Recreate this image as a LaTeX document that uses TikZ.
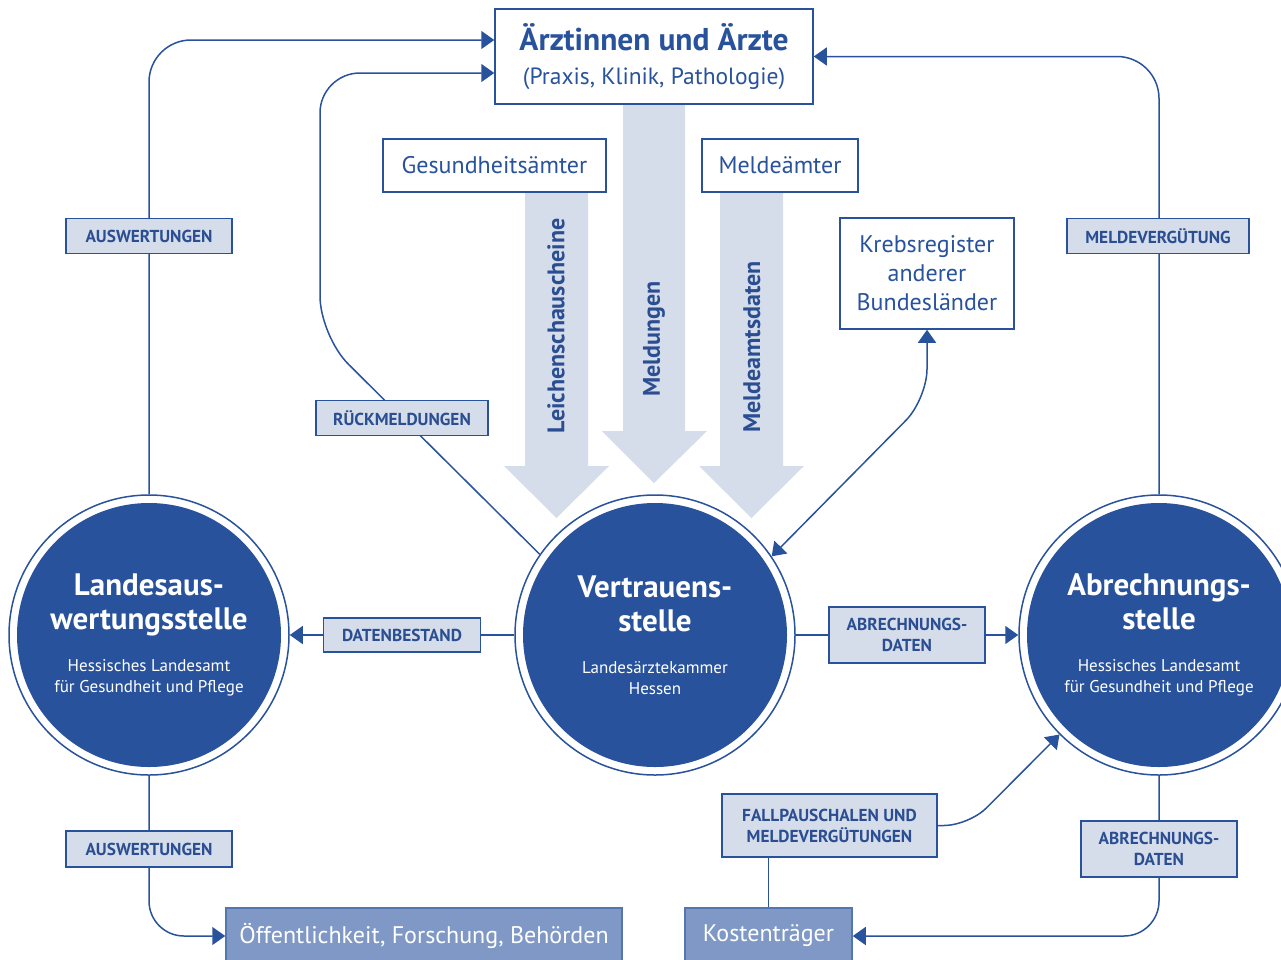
\documentclass[tikz,border=0pt]{standalone}
\usepackage{fontspec}
\setmainfont{PT Sans}
\usetikzlibrary{arrows.meta,calc}
\definecolor{navy}{RGB}{40,82,156}
\definecolor{lightfill}{RGB}{213,220,234}
\definecolor{midfill}{RGB}{127,152,198}
\definecolor{txtblue}{RGB}{42,78,145}
\newcommand{\ctitle}{\fontsize{31}{34}\selectfont\bfseries}
\newcommand{\csub}{\fontsize{17}{21}\selectfont\mdseries}
\newcommand{\atitle}{\fontsize{31.5}{34}\selectfont\bfseries}
\newcommand{\asub}{\fontsize{23.5}{30}\selectfont\mdseries}
\begin{document}
\begin{tikzpicture}[x=1pt,y=-1pt,
  conn/.style={draw=navy,line width=1.5pt},
  tip/.style={-{Triangle[length=13pt,width=18pt]}},
  whitebox/.style={draw=navy,line width=1.5pt,fill=white,text=navy,inner sep=0pt,align=center,font=\fontsize{24}{29}\selectfont},
  labelbox/.style={draw=navy,line width=1.5pt,fill=lightfill,text=txtblue,inner sep=0pt,align=center,font=\fontsize{17.3}{21}\selectfont\bfseries},
  darkbox/.style={draw=navy!80,line width=1.5pt,fill=midfill,text=white,inner sep=0pt,align=center,font=\fontsize{24}{26}\selectfont},
  bigarrow/.style={fill=lightfill},
  arrowtext/.style={text=txtblue,rotate=90,font=\fontsize{24}{26}\selectfont\bfseries},
  circ/.style={circle,minimum size=280pt,inner sep=0pt,draw=navy,line width=1.5pt,fill=white,text=white,align=center,
    font=\fontsize{31}{34}\selectfont,
    path picture={\fill[navy] (path picture bounding box.center) circle (132pt);}},
]
\useasboundingbox (0,0) rectangle (1281,959);
\clip (0,0) rectangle (1281,959);

% big flow arrows
\fill[bigarrow] (623,100) -- (685,100) -- (685,431) -- (707,431) -- (654,483) -- (602,431) -- (623,431) -- cycle;
\fill[bigarrow] (525,190) -- (588,190) -- (588,466) -- (609,466) -- (556.5,518) -- (504,466) -- (525,466) -- cycle;
\fill[bigarrow] (720,190) -- (783,190) -- (783,466) -- (804,466) -- (751.5,518) -- (699,466) -- (720,466) -- cycle;
\node[arrowtext] (tLeich) at (556,326) {Leichenschauscheine};
\node[arrowtext] (tMeld) at (654,339) {Meldungen};
\node[arrowtext] (tMdat) at (752,347) {Meldeamtsdaten};

% boxes
\node[whitebox,minimum width=318pt,minimum height=95pt] (aerzte) at (654,56.5)
  {\atitle Ärztinnen und Ärzte\\[5pt]\asub (Praxis, Klinik, Pathologie)};
\node[whitebox,minimum width=223pt,minimum height=53pt] (gesund) at (494.5,165.5) {Gesundheitsämter};
\node[whitebox,minimum width=156pt,minimum height=53pt] (melde) at (780,165.5) {Meldeämter};
\node[whitebox,minimum width=174pt,minimum height=111pt] (kreb) at (927,273.5) {Krebsregister\\anderer\\Bundesländer};
\node[darkbox,minimum width=396pt,minimum height=56pt] (oeff) at (424,936) {Öffentlichkeit, Forschung, Behörden};
\node[darkbox,minimum width=167pt,minimum height=56pt] (kost) at (768.5,936) {Kostenträger};

% circles
\node[circ] (cL) at (149,635) {\ctitle Landesaus-\\\ctitle wertungsstelle\\[8pt]\csub Hessisches Landesamt\\[-13pt]\csub für Gesundheit und Pflege};
\node[circ] (cV) at (655,635) {\ctitle Vertrauens-\\\ctitle stelle\\[8pt]\csub Landesärztekammer\\[-13pt]\csub Hessen};
\node[circ] (cA) at (1159,635) {\ctitle Abrechnungs-\\\ctitle stelle\\[8pt]\csub Hessisches Landesamt\\[-13pt]\csub für Gesundheit und Pflege};

% connectors
\draw[conn,tip,rounded corners=42pt] (cL.north) |- ([yshift=16.5pt]aerzte.west);
\draw[conn,tip,rounded corners=40pt] (cV.145.5) -- (320,336) -- (320,73) -- ([yshift=-16.5pt]aerzte.west);
\draw[conn,tip,rounded corners=42pt] (cA.north) |- (aerzte.east);
\draw[conn,tip] (cV.west) -- (cL.east);
\draw[conn,tip] (cV.east) -- (cA.west);
\draw[conn,{Triangle[length=13pt,width=18pt]}-{Triangle[length=13pt,width=18pt]},rounded corners=30pt] (cV.34.5) -- (927,399) -- (kreb.south);
\draw[conn,tip,rounded corners=35pt] (cL.south) |- (oeff.west);
\draw[conn,tip,rounded corners=35pt] (cA.south) |- (kost.east);

% labels
\node[labelbox,minimum width=166pt,minimum height=35pt] (lAusw1) at (149,236) {AUSWERTUNGEN};
\node[labelbox,minimum width=182pt,minimum height=35pt] (lMverg) at (1158,236) {MELDEVERGÜTUNG};
\node[labelbox,minimum width=172pt,minimum height=35pt] (lRueck) at (402,418) {RÜCKMELDUNGEN};
\node[labelbox,minimum width=157pt,minimum height=34pt] (lDat) at (402,635) {DATENBESTAND};
\node[labelbox,minimum width=156pt,minimum height=56pt] (lAbr1) at (907,635) {ABRECHNUNGS-\\DATEN};
\node[labelbox,minimum width=166pt,minimum height=36pt] (lAusw2) at (149,849) {AUSWERTUNGEN};
\node[labelbox,minimum width=215pt,minimum height=63pt] (lFall) at (829.5,825.5) {FALLPAUSCHALEN UND\\MELDEVERGÜTUNGEN};
\node[labelbox,minimum width=156pt,minimum height=56pt] (lAbr2) at (1159,849) {ABRECHNUNGS-\\DATEN};

\draw[conn,tip,rounded corners=25pt] (lFall.east) -- (969,825.5) -- (cA.225);
\draw[conn] (lFall.south -| kost.north) -- (kost.north);
\end{tikzpicture}
\end{document}
